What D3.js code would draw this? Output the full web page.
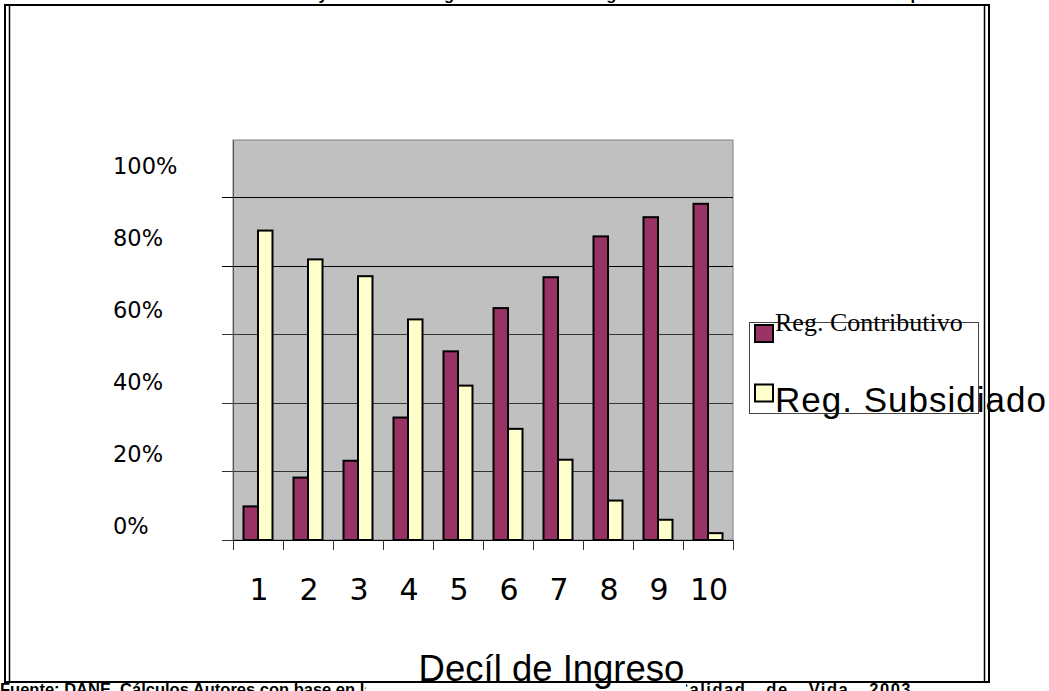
<!DOCTYPE html>
<html>
<head>
<meta charset="utf-8">
<script src="https://cdn.jsdelivr.net/npm/d3@7"></script>
<style>
  html, body { margin: 0; padding: 0; background: #fff; overflow: hidden; }
  svg { display: block; }
</style>
</head>
<body>
<svg id="chart" width="1049" height="691"></svg>
<script>
// Income deciles and share of each health-insurance regime
const deciles = ["1", "2", "3", "4", "5", "6", "7", "8", "9", "10"];
const contributivo = [0.098, 0.182, 0.231, 0.357, 0.550, 0.676, 0.766, 0.885, 0.941, 0.980];
const subsidiado   = [0.902, 0.818, 0.769, 0.643, 0.450, 0.324, 0.234, 0.115, 0.059, 0.020];
const seriesNames  = ["Reg. Contributivo", "Reg. Subsidiado"];
const seriesColors = ["#993366", "#FFFFCC"];
const yTickValues  = [0, 0.2, 0.4, 0.6, 0.8, 1.0];

const titleText  = "Afiliación al Contributivo y Subsidiado según los deciles de ingreso. Total nacional. Colombia 2003 - población";
const axisTitle  = "Decíl de Ingreso";
const sourceLeft  = "Fuente: DANE, Cálculos Autores con base en la Encuesta Nacional de Hogares";
const sourceRight = "Encuesta de Calidad de Vida 2003";

const svg = d3.select("#chart");
const W = 1049, H = 691;
const plot = { left: 233, right: 733, top: 140, bottom: 540 };

svg.append("rect").attr("width", W).attr("height", H).attr("fill", "#fff");

// Title line (sits above the frame, mostly outside the page)
const title = svg.append("text")
  .attr("y", -0.5)
  .attr("font-family", "Liberation Sans, Arial, sans-serif")
  .attr("font-weight", "bold")
  .attr("font-size", 16.5)
  .attr("fill", "#000")
  .text(titleText);
{
  const i = titleText.indexOf("y");
  const node = title.node();
  const ext = node.getExtentOfChar(i);
  title.attr("x", 323 - (ext.x + ext.width / 2));
}

// Scales
const y = d3.scaleLinear().domain([0, 1.166]).range([plot.bottom, plot.top]);
const yLabel = d3.scaleLinear().domain([0, 1]).range([534, 174.3]);
const x0 = d3.scaleBand().domain(deciles).range([plot.left, plot.right]).padding(0);
const x1 = d3.scaleBand().domain(seriesNames).range([10.5, 39.5]).padding(0);

// Plot area
svg.append("rect")
  .attr("x", plot.left).attr("y", plot.top)
  .attr("width", plot.right - plot.left).attr("height", plot.bottom - plot.top)
  .attr("fill", "#C0C0C0").attr("stroke", "#808080").attr("stroke-width", 1);

// Gridlines with short ticks to the left of the plot
svg.append("g").selectAll("line").data(yTickValues).join("line")
  .attr("x1", plot.left - 11).attr("x2", plot.right)
  .attr("y1", d => Math.round(y(d)) + 0.5).attr("y2", d => Math.round(y(d)) + 0.5)
  .attr("stroke", d => d >= 0.8 ? "#000" : "#333").attr("stroke-width", 1);

// Vertical axis line
svg.append("line")
  .attr("x1", plot.left + 0.5).attr("x2", plot.left + 0.5)
  .attr("y1", plot.top).attr("y2", plot.bottom)
  .attr("stroke", "#555").attr("stroke-width", 1);

// Y labels
svg.append("g").selectAll("text").data(yTickValues).join("text")
  .attr("x", 113).attr("y", d => yLabel(d))
  .attr("font-family", "DejaVu Sans, Verdana, sans-serif")
  .attr("font-size", 22.5)
  .attr("fill", "#000")
  .text(d => d3.format(".0%")(d));

// Bars
const rows = deciles.map((d, i) => ({ decil: d, values: [contributivo[i], subsidiado[i]] }));
const groups = svg.append("g").selectAll("g").data(rows).join("g")
  .attr("transform", d => `translate(${x0(d.decil)},0)`);
groups.selectAll("rect")
  .data(d => d.values.map((v, k) => ({ v, k })))
  .join("rect")
  .attr("x", d => x1(seriesNames[d.k]))
  .attr("y", d => y(d.v))
  .attr("width", x1.bandwidth())
  .attr("height", d => y(0) - y(d.v))
  .attr("fill", d => seriesColors[d.k])
  .attr("stroke", "#000").attr("stroke-width", 2);

// X axis line and ticks between categories
svg.append("line")
  .attr("x1", plot.left).attr("x2", plot.right)
  .attr("y1", plot.bottom + 0.5).attr("y2", plot.bottom + 0.5)
  .attr("stroke", "#000");
const boundaries = deciles.map(d => x0(d)).concat([plot.right]);
svg.append("g").selectAll("line").data(boundaries).join("line")
  .attr("x1", d => Math.round(d) + 0.5).attr("x2", d => Math.round(d) + 0.5)
  .attr("y1", plot.bottom).attr("y2", plot.bottom + 10)
  .attr("stroke", "#333");

// X labels
svg.append("g").selectAll("text").data(deciles).join("text")
  .attr("x", d => x0(d) + x0.bandwidth() / 2 + 1)
  .attr("y", 600)
  .attr("text-anchor", "middle")
  .attr("font-family", "DejaVu Sans, Verdana, sans-serif")
  .attr("font-size", 30)
  .attr("fill", "#000")
  .text(d => d);

// Legend
const legend = svg.append("g");
legend.append("rect")
  .attr("x", 749.5).attr("y", 322.5).attr("width", 229).attr("height", 91)
  .attr("fill", "none").attr("stroke", "#444").attr("stroke-width", 1);
const legendItems = [
  { name: seriesNames[0], color: seriesColors[0], sy: 325, ty: 331, font: "Liberation Serif, Times New Roman, serif", size: 26, ls: 0 },
  { name: seriesNames[1], color: seriesColors[1], sy: 384.5, ty: 412, font: "Liberation Sans, Arial, sans-serif", size: 35, ls: 1 }
];
legend.selectAll("rect.sw").data(legendItems).join("rect")
  .attr("class", "sw")
  .attr("x", 755).attr("y", d => d.sy).attr("width", 18).attr("height", 17)
  .attr("fill", d => d.color).attr("stroke", "#000").attr("stroke-width", 2);
legend.selectAll("text").data(legendItems).join("text")
  .attr("x", 775).attr("y", d => d.ty)
  .attr("font-family", d => d.font).attr("font-size", d => d.size)
  .attr("letter-spacing", d => d.ls)
  .attr("fill", "#000")
  .text(d => d.name);

// Source line at the foot of the page (justified, so its spacing is loose)
const srcFont = { family: "Liberation Sans, Arial, sans-serif", size: 16.5 };
svg.append("text").attr("x", 0).attr("y", 695)
  .attr("font-family", srcFont.family).attr("font-weight", "bold").attr("font-size", srcFont.size)
  .text(sourceLeft);
svg.append("text").attr("x", 912).attr("y", 695).attr("text-anchor", "end")
  .attr("word-spacing", 14).attr("letter-spacing", 1.5)
  .attr("font-family", srcFont.family).attr("font-weight", "bold").attr("font-size", srcFont.size)
  .text(sourceRight);

// Axis title box covering the middle of the source line
svg.append("rect").attr("x", 366).attr("y", 683).attr("width", 320).attr("height", 10).attr("fill", "#fff");

// Double-ruled frame
const frame = svg.append("g").attr("fill", "none").attr("stroke", "#000");
frame.append("rect").attr("x", 5).attr("y", 5).attr("width", 984).attr("height", 677).attr("stroke-width", 2);
frame.append("line").attr("x1", 9.5).attr("x2", 9.5).attr("y1", 5).attr("y2", 682).attr("stroke-width", 1.5);
frame.append("line").attr("x1", 984.5).attr("x2", 984.5).attr("y1", 5).attr("y2", 682).attr("stroke-width", 1.5);

// Axis title
svg.append("text")
  .attr("x", 551.5).attr("y", 681)
  .attr("text-anchor", "middle")
  .attr("font-family", "Liberation Sans, Arial, sans-serif")
  .attr("font-size", 36.5)
  .attr("fill", "#000")
  .text(axisTitle);
</script>
</body>
</html>
